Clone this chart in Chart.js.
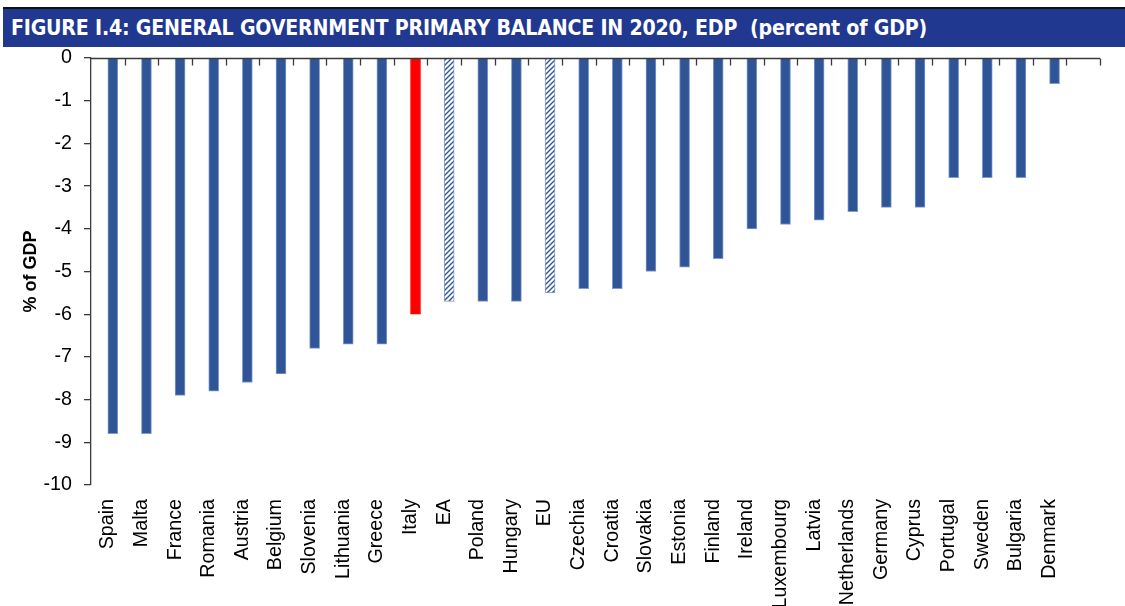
<!DOCTYPE html>
<html>
<head>
<meta charset="utf-8">
<script src="https://cdn.jsdelivr.net/npm/chart.js@4.4.1/dist/chart.umd.min.js"></script>
<style>
  html, body { margin: 0; padding: 0; background: #fff; }
  #wrap { position: relative; width: 1125px; height: 606px; overflow: hidden; background: #fff; }
  #chart { position: absolute; left: 0; top: 0; }
  #topRule { position: absolute; left: 3px; top: 7px; width: 1122px; height: 2px; background: #111; }
  #banner { position: absolute; left: 3px; top: 9px; width: 1122px; height: 38px; background: #20388f; }
  #bannerText {
    position: absolute; left: 8px; top: 0; line-height: 38px; height: 38px;
    color: #fff; font-weight: 900; white-space: nowrap; transform-origin: 0 50%;
    font-family: "Liberation Sans Narrow", "DejaVu Sans Condensed", "Liberation Sans", sans-serif;
    font-size: 20.5px; letter-spacing: -0.2px;
  }
</style>
</head>
<body>
<div id="wrap">
  <canvas id="chart" width="1125" height="606"></canvas>
  <div id="topRule"></div>
  <div id="banner"><span id="bannerText">FIGURE I.4: GENERAL GOVERNMENT PRIMARY BALANCE IN 2020, EDP&nbsp;&nbsp;(percent of GDP)</span></div>
</div>
<script>
// Countries and aggregates, ordered from largest deficit to smallest
const categories = ['Spain', 'Malta', 'France', 'Romania', 'Austria', 'Belgium', 'Slovenia',
  'Lithuania', 'Greece', 'Italy', 'EA', 'Poland', 'Hungary', 'EU', 'Czechia', 'Croatia',
  'Slovakia', 'Estonia', 'Finland', 'Ireland', 'Luxembourg', 'Latvia', 'Netherlands',
  'Germany', 'Cyprus', 'Portugal', 'Sweden', 'Bulgaria', 'Denmark', ''];

// General government primary balance 2020, % of GDP
const primaryBalance = [-8.8, -8.8, -7.9, -7.8, -7.6, -7.4, -6.8, -6.7, -6.7, -6.0, -5.7,
  -5.7, -5.7, -5.5, -5.4, -5.4, -5.0, -4.9, -4.7, -4.0, -3.9, -3.8, -3.6, -3.5, -3.5,
  -2.8, -2.8, -2.8, -0.6, null];

// Empty companion series (keeps the bars in the right-hand slot of each category)
const spacerSeries = [null, null, null, null, null, null, null, null, null, null, null, null,
  null, null, null, null, null, null, null, null, null, null, null, null, null, null, null,
  null, null, null];

const yMin = -10;
const yMax = 0;
const yStep = 1;

const highlighted = ['Italy'];
const aggregates = ['EA', 'EU'];

// Fit the banner title to its measured width
(function fitBanner() {
  const el = document.getElementById('bannerText');
  const w = el.getBoundingClientRect().width;
  const target = 916;
  el.style.transform = 'scaleX(' + (target / w) + ')';
})();

function makeHatch() {
  const c = document.createElement('canvas');
  c.width = 5; c.height = 5;
  const g = c.getContext('2d');
  g.fillStyle = '#ffffff';
  g.fillRect(0, 0, 5, 5);
  g.strokeStyle = '#2f5597';
  g.lineWidth = 1.4;
  g.beginPath();
  g.moveTo(-1, 6); g.lineTo(6, -1);
  g.moveTo(-3.5, 3.5); g.lineTo(3.5, -3.5);
  g.moveTo(1.5, 8.5); g.lineTo(8.5, 1.5);
  g.stroke();
  return g.createPattern(c, 'repeat');
}

const hatch = makeHatch();
const BLUE = '#2f5597';
const EDGE = '#7f9bd0';

const fills = categories.map(c => highlighted.includes(c) ? '#ff0000' : (aggregates.includes(c) ? hatch : BLUE));
const edges = categories.map(c => highlighted.includes(c) ? '#ff0000' : EDGE);

// Zero line along the top with inward tick marks between categories
const zeroAxis = {
  id: 'zeroAxis',
  afterDatasetsDraw(chart) {
    const { ctx, chartArea: a, scales: { y } } = chart;
    const y0 = Math.round(y.getPixelForValue(0)) + 0.5;
    const n = categories.length;
    const step = (a.right - a.left) / n;
    ctx.save();
    ctx.strokeStyle = '#3a3a3a';
    ctx.lineWidth = 1.3;
    ctx.beginPath();
    ctx.moveTo(a.left, y0);
    ctx.lineTo(a.right, y0);
    for (let i = 1; i <= n; i++) {
      const px = Math.round(a.left + i * step) + 0.5;
      ctx.moveTo(px, y0);
      ctx.lineTo(px, y0 + 7);
    }
    ctx.stroke();
    ctx.restore();
  }
};

const FONT = '"Liberation Sans", Arial, sans-serif';

new Chart(document.getElementById('chart'), {
  type: 'bar',
  data: {
    labels: categories,
    datasets: [
      { label: 'spacer', data: spacerSeries, backgroundColor: 'rgba(0,0,0,0)' },
      {
        label: 'Primary balance',
        data: primaryBalance,
        backgroundColor: fills,
        borderColor: edges,
        borderWidth: 1
      }
    ]
  },
  options: {
    responsive: false,
    animation: false,
    events: [],
    datasets: { bar: { barThickness: 10, grouped: true } },
    layout: { padding: { top: 58, left: 0, right: 25, bottom: 0 } },
    plugins: { legend: { display: false }, tooltip: { enabled: false } },
    scales: {
      x: {
        grid: { display: false, drawTicks: false },
        border: { display: false },
        ticks: {
          autoSkip: false, minRotation: 90, maxRotation: 90, padding: 14,
          color: '#000', font: { family: FONT, size: 19.7 }
        },
        afterFit(s) { s.height = 121; }
      },
      y: {
        min: yMin, max: yMax,
        ticks: { stepSize: yStep, padding: 12, color: '#000', font: { family: FONT, size: 19.7 } },
        grid: { drawOnChartArea: false, drawTicks: true, tickLength: 7, color: '#3a3a3a', lineWidth: 1.3 },
        border: { display: true, color: '#3a3a3a', width: 1.3 },
        title: {
          display: true, text: '% of GDP', color: '#000',
          font: { family: FONT, size: 18, weight: 'bold' },
          padding: { top: 20, bottom: 0 }
        },
        afterFit(s) { s.width = 91; }
      }
    }
  },
  plugins: [zeroAxis]
});
</script>
</body>
</html>
